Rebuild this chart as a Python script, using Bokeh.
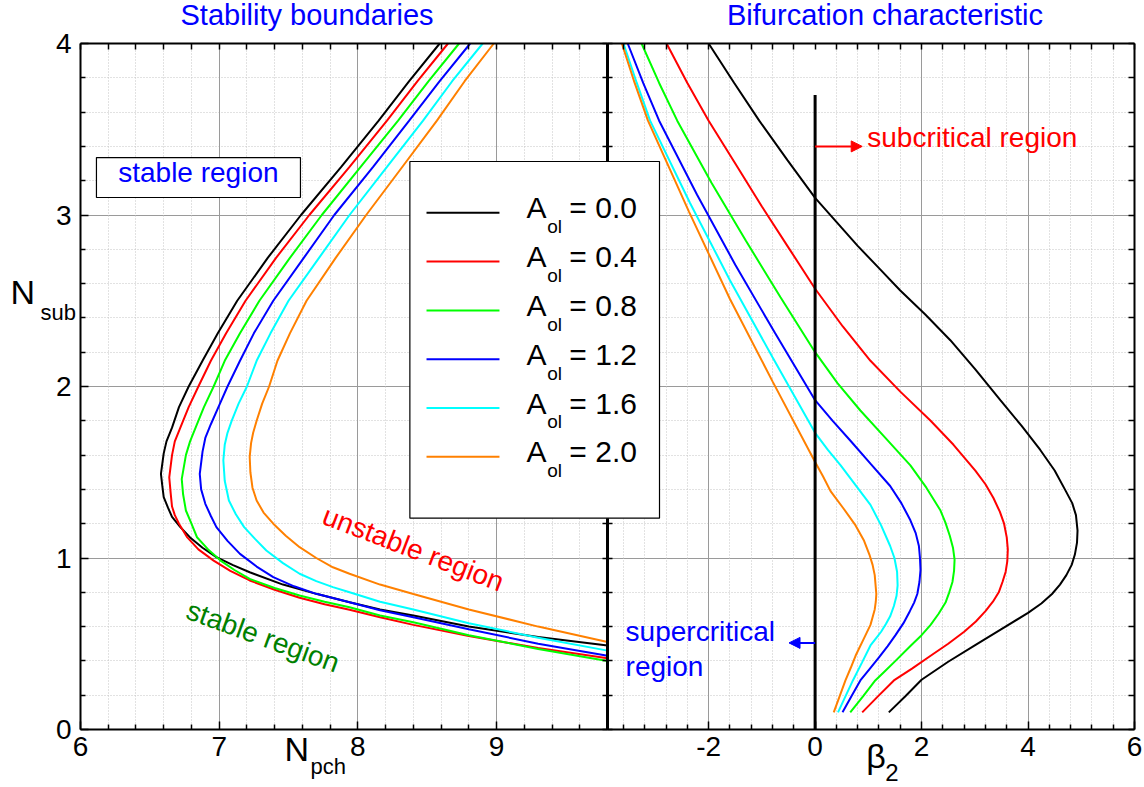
from bokeh.plotting import figure
from bokeh.models import (Range1d, LinearAxis, FixedTicker, Grid, Label,
                          Arrow, NormalHead, BoxAnnotation)
from bokeh.embed import file_html
from bokeh.resources import INLINE

FONT = "Liberation Sans"

# Subcooling-number curves, one per oscillation amplitude A_ol
A_OL = [0.0, 0.4, 0.8, 1.2, 1.6, 2.0]
COLORS = ["#000000", "#ff0000", "#00ff00", "#0000ff", "#00ffff", "#ff8000"]

# Stability boundaries: phase-change number N_pch vs subcooling number N_sub
NPCH = [
    [8.59, 8.37, 8.15, 7.88, 7.59, 7.35, 7.13, 6.99, 6.88, 6.78, 6.71, 6.66, 6.62, 6.60, 6.58, 6.59, 6.60, 6.63, 6.66, 6.72, 6.79, 6.88, 6.98, 7.10, 7.22, 7.46, 7.70, 7.94, 8.16, 8.40, 8.80, 9.30, 9.80],
    [8.65, 8.43, 8.21, 7.94, 7.65, 7.41, 7.19, 7.05, 6.94, 6.85, 6.78, 6.72, 6.68, 6.66, 6.64, 6.65, 6.66, 6.68, 6.71, 6.77, 6.85, 6.96, 7.08, 7.22, 7.40, 7.58, 7.76, 7.94, 8.16, 8.40, 8.80, 9.30, 9.80],
    [8.73, 8.51, 8.29, 8.02, 7.74, 7.51, 7.29, 7.15, 7.04, 6.96, 6.89, 6.83, 6.79, 6.76, 6.73, 6.74, 6.76, 6.80, 6.84, 6.92, 7.01, 7.11, 7.22, 7.40, 7.58, 7.76, 7.94, 8.16, 8.40, 8.80, 9.30, 9.80],
    [8.81, 8.59, 8.37, 8.11, 7.83, 7.61, 7.39, 7.25, 7.15, 7.06, 7.00, 6.94, 6.90, 6.88, 6.86, 6.87, 6.90, 6.94, 6.98, 7.06, 7.15, 7.27, 7.39, 7.54, 7.70, 7.94, 8.16, 8.40, 8.80, 9.30, 9.80],
    [8.90, 8.68, 8.47, 8.21, 7.94, 7.72, 7.50, 7.37, 7.27, 7.20, 7.14, 7.09, 7.06, 7.04, 7.03, 7.035, 7.04, 7.07, 7.12, 7.18, 7.26, 7.34, 7.46, 7.58, 7.70, 7.82, 7.94, 8.16, 8.40, 8.80, 9.30, 9.80],
    [8.98, 8.77, 8.57, 8.32, 8.06, 7.84, 7.63, 7.51, 7.42, 7.36, 7.31, 7.27, 7.245, 7.23, 7.22, 7.225, 7.24, 7.27, 7.32, 7.39, 7.48, 7.58, 7.70, 7.82, 7.94, 8.16, 8.40, 8.80, 9.30, 9.80],
]
NSUB_STAB = [
    [4.00, 3.78, 3.55, 3.28, 3.00, 2.75, 2.50, 2.31, 2.15, 2.00, 1.88, 1.76, 1.68, 1.61, 1.49, 1.42, 1.355, 1.295, 1.24, 1.18, 1.12, 1.06, 1.005, 0.958, 0.917, 0.845, 0.791, 0.742, 0.70, 0.665, 0.60, 0.54, 0.49],
    [4.00, 3.78, 3.55, 3.28, 3.00, 2.75, 2.50, 2.31, 2.15, 2.00, 1.88, 1.76, 1.68, 1.60, 1.47, 1.38, 1.30, 1.25, 1.20, 1.12, 1.05, 0.985, 0.925, 0.869, 0.815, 0.768, 0.73, 0.698, 0.655, 0.61, 0.545, 0.475, 0.415],
    [4.00, 3.78, 3.55, 3.28, 3.00, 2.75, 2.50, 2.31, 2.15, 2.00, 1.88, 1.76, 1.68, 1.60, 1.46, 1.37, 1.277, 1.20, 1.121, 1.05, 0.985, 0.93, 0.878, 0.825, 0.781, 0.745, 0.713, 0.665, 0.625, 0.55, 0.47, 0.40],
    [4.00, 3.78, 3.55, 3.28, 3.00, 2.75, 2.50, 2.31, 2.15, 2.00, 1.89, 1.78, 1.70, 1.62, 1.49, 1.40, 1.316, 1.245, 1.18, 1.10, 1.024, 0.95, 0.888, 0.835, 0.791, 0.742, 0.695, 0.655, 0.585, 0.50, 0.43],
    [4.00, 3.78, 3.55, 3.28, 3.00, 2.75, 2.50, 2.31, 2.15, 2.00, 1.90, 1.80, 1.73, 1.66, 1.57, 1.51, 1.45, 1.335, 1.255, 1.18, 1.11, 1.044, 0.97, 0.908, 0.865, 0.83, 0.80, 0.745, 0.70, 0.62, 0.535, 0.46],
    [4.00, 3.78, 3.55, 3.28, 3.00, 2.75, 2.50, 2.31, 2.15, 2.00, 1.90, 1.80, 1.73, 1.67, 1.59, 1.50, 1.41, 1.335, 1.265, 1.20, 1.13, 1.063, 1.00, 0.946, 0.908, 0.845, 0.79, 0.70, 0.60, 0.51],
]

# Bifurcation characteristic: beta_2 vs N_sub
BETA2 = [
    [-2.00, -1.52, -1.05, -0.52, 0.00, 0.40, 0.80, 1.20, 1.60, 2.07, 2.54, 3.01, 3.48, 3.88, 4.23, 4.50, 4.71, 4.83, 4.90, 4.93, 4.92, 4.88, 4.82, 4.72, 4.60, 4.45, 4.25, 4.00, 3.50, 3.00, 2.50, 2.00, 1.70, 1.385],
    [-2.79, -2.40, -2.00, -1.50, -1.00, -0.50, 0.00, 0.52, 1.04, 1.60, 2.17, 2.60, 3.01, 3.20, 3.35, 3.47, 3.55, 3.60, 3.62, 3.61, 3.58, 3.52, 3.45, 3.34, 3.20, 3.02, 2.80, 2.50, 2.17, 1.82, 1.48, 1.18, 0.885],
    [-3.26, -2.93, -2.59, -1.95, -1.30, -0.65, 0.00, 0.42, 0.85, 1.32, 1.79, 2.09, 2.35, 2.45, 2.53, 2.59, 2.62, 2.61, 2.58, 2.52, 2.45, 2.32, 2.17, 2.00, 1.80, 1.51, 1.32, 1.13, 0.90, 0.66],
    [-3.52, -3.23, -2.93, -2.22, -1.50, -0.75, 0.00, 0.33, 0.66, 1.04, 1.41, 1.62, 1.79, 1.89, 1.95, 1.97, 1.98, 1.96, 1.92, 1.86, 1.78, 1.66, 1.51, 1.36, 1.20, 1.03, 0.85, 0.68, 0.515],
    [-3.60, -3.35, -3.10, -2.35, -1.60, -0.80, 0.00, 0.24, 0.48, 0.76, 1.04, 1.24, 1.41, 1.49, 1.54, 1.55, 1.53, 1.48, 1.41, 1.33, 1.24, 1.14, 1.04, 0.88, 0.71, 0.57, 0.43],
    [-3.63, -3.39, -3.14, -2.37, -1.60, -0.80, 0.00, 0.15, 0.29, 0.53, 0.76, 0.92, 1.02, 1.08, 1.12, 1.15, 1.14, 1.12, 1.08, 1.04, 0.97, 0.90, 0.83, 0.76, 0.67, 0.57, 0.46, 0.35],
]
NSUB_BIF = [
    [4.00, 3.77, 3.55, 3.32, 3.10, 2.96, 2.82, 2.69, 2.56, 2.42, 2.27, 2.10, 1.92, 1.77, 1.63, 1.51, 1.39, 1.32, 1.25, 1.16, 1.09, 1.02, 0.96, 0.90, 0.845, 0.79, 0.735, 0.68, 0.585, 0.49, 0.395, 0.29, 0.195, 0.10],
    [4.00, 3.77, 3.55, 3.30, 3.05, 2.81, 2.57, 2.35, 2.15, 1.97, 1.80, 1.66, 1.51, 1.43, 1.35, 1.27, 1.20, 1.12, 1.05, 0.98, 0.92, 0.86, 0.80, 0.745, 0.69, 0.63, 0.57, 0.50, 0.43, 0.355, 0.286, 0.193, 0.10],
    [4.00, 3.77, 3.55, 3.19, 2.85, 2.52, 2.20, 2.02, 1.86, 1.70, 1.54, 1.41, 1.28, 1.205, 1.13, 1.06, 0.99, 0.925, 0.86, 0.80, 0.74, 0.675, 0.61, 0.55, 0.49, 0.40, 0.343, 0.286, 0.193, 0.10],
    [4.00, 3.77, 3.55, 3.12, 2.71, 2.31, 1.92, 1.80, 1.685, 1.55, 1.42, 1.32, 1.22, 1.145, 1.07, 1.00, 0.93, 0.86, 0.79, 0.74, 0.69, 0.62, 0.55, 0.485, 0.42, 0.355, 0.286, 0.193, 0.10],
    [4.00, 3.77, 3.55, 3.07, 2.62, 2.17, 1.73, 1.63, 1.54, 1.425, 1.31, 1.19, 1.07, 1.00, 0.92, 0.84, 0.78, 0.72, 0.66, 0.615, 0.57, 0.53, 0.49, 0.39, 0.286, 0.193, 0.10],
    [4.00, 3.77, 3.55, 3.02, 2.51, 2.03, 1.56, 1.475, 1.39, 1.29, 1.19, 1.10, 1.02, 0.96, 0.90, 0.79, 0.745, 0.70, 0.655, 0.61, 0.565, 0.52, 0.475, 0.43, 0.36, 0.286, 0.193, 0.10],
]

NPCH_TICKS = [6, 7, 8, 9]
BETA_TICKS = [-2, 0, 2, 4, 6]
NSUB_TICKS = [0, 1, 2, 3, 4]

NPCH_LIM = (6.0, 9.8)
BETA_LIM = (-3.9, 6.0)
NSUB_LIM = (0.0, 4.0)
ZERO_LINE_TOP = 3.7          # extent of the beta_2 = 0 marker line
SUB_ARROW_Y, SUB_ARROW_TIP = 3.40, 0.885
SUPER_ARROW_Y, SUPER_ARROW_TIP = 0.505, -0.49

npch_minor = [round(6 + 0.2 * k, 1) for k in range(1, 19) if k % 5]
beta_minor = [round(-3.6 + 0.4 * k, 1) for k in range(0, 24) if round(-3.6 + 0.4 * k, 1) % 2]
nsub_minor = [round(0.2 * k, 1) for k in range(1, 20) if k % 5]

# Canvas layout (pixels): plot box and the split between the two panels
W, H = 1144, 787
BOX_L, BOX_R, BOX_T, BOX_B, SPLIT = 80, 1134, 43, 729, 607

# The frame covers the whole canvas; ranges are set so the panel limits
# land on the plot box edges.
ky = (NSUB_LIM[1] - NSUB_LIM[0]) / (BOX_B - BOX_T)
kx = (NPCH_LIM[1] - NPCH_LIM[0]) / (SPLIT - BOX_L)
kb = (BETA_LIM[1] - BETA_LIM[0]) / (BOX_R - SPLIT)
y_range = Range1d(NSUB_LIM[0] - (H - BOX_B) * ky, NSUB_LIM[1] + BOX_T * ky)
npch_range = Range1d(NPCH_LIM[0] - BOX_L * kx, NPCH_LIM[0] + (W - BOX_L) * kx)
beta_range = Range1d(BETA_LIM[0] - SPLIT * kb, BETA_LIM[1] + (W - BOX_R) * kb)
npch_box_right = NPCH_LIM[0] + (BOX_R - BOX_L) * kx

p = figure(width=W, height=H, output_backend="svg", toolbar_location=None,
           x_range=npch_range, y_range=y_range,
           x_axis_location=None, y_axis_location=None,
           min_border_left=0, min_border_right=0, min_border_top=0, min_border_bottom=0)
p.extra_x_ranges = {"beta": beta_range}
p.center = []
p.outline_line_color = None
p.background_fill_color = "white"
p.border_fill_color = "white"

# ---- grids
def add_grid(dim, ticks, minor, cross, range_name="default"):
    g = Grid(dimension=dim, ticker=FixedTicker(ticks=ticks, minor_ticks=minor),
             x_range_name=range_name, cross_bounds=cross)
    g.grid_line_color = "#9a9a9a"
    g.grid_line_width = 1
    g.minor_grid_line_color = "#c4c4c4"
    g.minor_grid_line_dash = "1 2"
    g.minor_grid_line_width = 1
    p.add_layout(g, "center")

add_grid(1, [1, 2, 3], nsub_minor, (NPCH_LIM[0], npch_box_right))
add_grid(0, [7, 8, 9], npch_minor, NSUB_LIM)
add_grid(0, [-2, 2, 4], beta_minor, NSUB_LIM, "beta")

# ---- axes (all pinned to the plot box edges)
def make_axis(ticks, minor, bounds, fixed, labels, range_name="default"):
    if labels:
        ticker = FixedTicker(ticks=ticks, minor_ticks=minor)
    else:
        ticker = FixedTicker(ticks=[], minor_ticks=sorted(ticks + minor))
    ax = LinearAxis(ticker=ticker, x_range_name=range_name, fixed_location=fixed,
                    bounds=bounds)
    ax.axis_line_color = "black"
    ax.axis_line_width = 2
    ax.major_tick_line_color = "black"
    ax.minor_tick_line_color = "black"
    ax.major_tick_line_width = 1.5
    ax.minor_tick_line_width = 1.5
    ax.major_tick_in, ax.major_tick_out = 8, 0
    ax.minor_tick_in, ax.minor_tick_out = (5 if labels else 6), 0
    ax.major_label_text_font = FONT
    ax.major_label_text_font_size = "28px"
    ax.major_label_text_color = "black"
    ax.major_label_standoff = 7
    ax.major_label_overrides = {t: str(t) for t in ticks}
    return ax

p.add_layout(make_axis(NPCH_TICKS, npch_minor, NPCH_LIM, NSUB_LIM[0], True), "below")
p.add_layout(make_axis(BETA_TICKS, beta_minor, BETA_LIM, NSUB_LIM[0], True, "beta"), "below")
p.add_layout(make_axis(NPCH_TICKS, npch_minor, NPCH_LIM, NSUB_LIM[1], False), "above")
p.add_layout(make_axis(BETA_TICKS, beta_minor, BETA_LIM, NSUB_LIM[1], False, "beta"), "above")
yl = make_axis(NSUB_TICKS, nsub_minor, NSUB_LIM, NPCH_LIM[0], True)
yl.major_label_standoff = 9
p.add_layout(yl, "left")
p.add_layout(make_axis(NSUB_TICKS, nsub_minor, NSUB_LIM, BETA_LIM[1], False, "beta"), "right")

# divider between the two panels, ticks on both sides
div = make_axis(NSUB_TICKS, nsub_minor, NSUB_LIM, NPCH_LIM[1], False)
div.axis_line_width = 3
div.minor_tick_in = div.minor_tick_out = 5
p.add_layout(div, "left")

# ---- curves
for xs, ys, c in zip(NPCH, NSUB_STAB, COLORS):
    p.line(xs, ys, line_color=c, line_width=2)
for xs, ys, c in zip(BETA2, NSUB_BIF, COLORS):
    p.line(xs, ys, line_color=c, line_width=2, x_range_name="beta")

p.segment(x0=[0], y0=[NSUB_LIM[0]], x1=[0], y1=[ZERO_LINE_TOP], line_color="black",
          line_width=3, x_range_name="beta")

# ---- annotations
def label(text, x, y, size, color="black", rng="default", **kw):
    p.add_layout(Label(text=text, x=x, y=y, x_range_name=rng, text_font=FONT,
                       text_font_size=size, text_color=color, **kw))

label("Stability boundaries", 6.721, 4.07, "29px", "#0000ff")
label("Bifurcation characteristic", -1.655, 4.07, "29px", "#0000ff", "beta")

label("N", 7.471, -0.227, "34px")
label("pch", 7.658, -0.286, "22px")
label("\u03b2", 0.96, -0.265, "34px", rng="beta")
label("2", 1.32, -0.298, "24px", rng="beta")
label("N", 5.495, 2.443, "34px")
label("sub", 5.712, 2.356, "22px")

p.add_layout(BoxAnnotation(left=6.115, right=7.586, top=3.335, bottom=3.102,
                           fill_color="white", fill_alpha=1.0,
                           line_color="black", line_alpha=1.0, line_width=1.2))
label("stable region", 6.85, 3.16, "28px", "#0000ff", text_align="center")

label("unstable region", 8.40, 1.055, "28px", "#ff0000", text_align="center",
      text_baseline="middle", angle=-21, angle_units="deg")
label("stable region", 7.316, 0.542, "28px", "#008000", text_align="center",
      text_baseline="middle", angle=-20, angle_units="deg")

p.add_layout(Arrow(end=NormalHead(size=11, fill_color="#ff0000", line_color="#ff0000"),
                   x_start=0, y_start=SUB_ARROW_Y, x_end=SUB_ARROW_TIP, y_end=SUB_ARROW_Y,
                   line_color="#ff0000", line_width=2, x_range_name="beta"))
label("subcritical region", 0.98, 3.36, "28px", "#ff0000", "beta")

p.add_layout(Arrow(end=NormalHead(size=11, fill_color="#0000ff", line_color="#0000ff"),
                   x_start=0, y_start=SUPER_ARROW_Y, x_end=SUPER_ARROW_TIP, y_end=SUPER_ARROW_Y,
                   line_color="#0000ff", line_width=2, x_range_name="beta"))
label("supercritical", -3.56, 0.48, "28px", "#0000ff", "beta")
label("region", -3.56, 0.276, "28px", "#0000ff", "beta")

# ---- legend (drawn over both panels)
p.add_layout(BoxAnnotation(left=8.375, right=10.175, top=3.312, bottom=1.232,
                           fill_color="white", fill_alpha=1.0,
                           line_color="black", line_alpha=1.0, line_width=1.2))
ROW_STEP = 0.2846
for i, (a, c) in enumerate(zip(A_OL, COLORS)):
    ly = 3.013 - ROW_STEP * i
    by = 2.945 - ROW_STEP * i
    p.add_layout(Arrow(end=None, x_start=8.495, y_start=ly, x_end=9.021, y_end=ly,
                       line_color=c, line_width=2))
    label("A", 9.216, by, "30px")
    label("ol", 9.365, by - 0.074, "19px")
    label(f"= {a:.1f}", 9.525, by, "30px")

open("out.html", "w").write(file_html(p, INLINE))
